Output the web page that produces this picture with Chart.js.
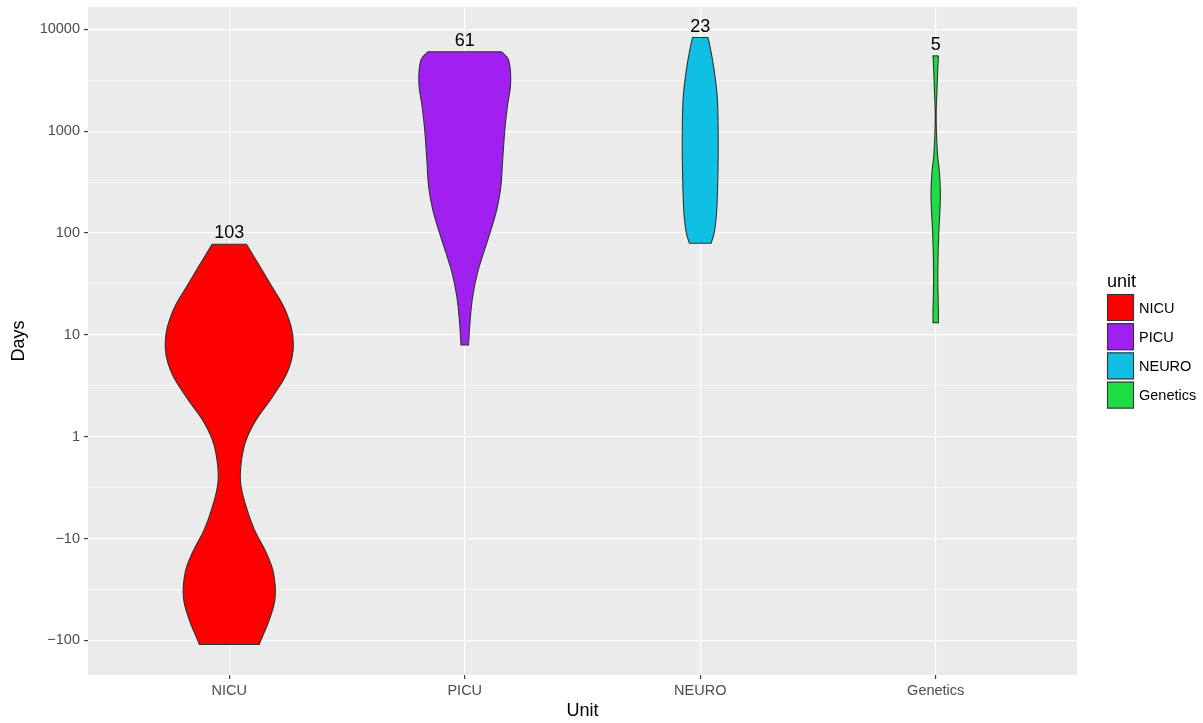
<!DOCTYPE html>
<html lang="en">
<head>
    <meta charset="UTF-8">
    <title>Days by Unit</title>
    <script src="https://cdn.jsdelivr.net/npm/chart.js"></script>
    <style>
        body {
            margin: 0;
            background-color: #fff;
        }
    </style>
</head>
<body>
    <canvas id="violinChart" width="1203" height="723"></canvas>

    <script>
        // Units along the x axis
        const units = ['NICU', 'PICU', 'NEURO', 'Genetics'];
        const unitColors = ['#FF0000', '#A020F0', '#10C0E4', '#1EDD42'];
        const unitCounts = [103, 61, 23, 5];

        // y axis is on a signed log scale: 0 -> 1, 1 -> 10, -1 -> -10 ...
        const yTickValues = [-2, -1, 0, 1, 2, 3, 4];
        const yTickLabels = ['\u2212100', '\u221210', '1', '10', '100', '1000', '10000'];

        // Violin outlines: levels (top to bottom) and half widths (x units)
        const nicuLevels = [1.89, 1.49, 1.22, 0.92, 0.66, 0.39, 0.17, -0.03, -0.23, -0.45, -0.69, -0.91, -1.14, -1.33, -1.57, -1.77, -2.04];
        const nicuHalfWidth = [0.073, 0.177, 0.242, 0.272, 0.251, 0.183, 0.115, 0.072, 0.052, 0.048, 0.072, 0.106, 0.157, 0.187, 0.195, 0.174, 0.127];

        const picuLevels = [3.78, 3.70, 3.48, 3.24, 3.01, 2.72, 2.45, 2.23, 2.00, 1.80, 1.61, 1.38, 1.15, 0.90];
        const picuHalfWidth = [0.157, 0.186, 0.195, 0.181, 0.170, 0.161, 0.153, 0.136, 0.107, 0.079, 0.054, 0.034, 0.023, 0.016];

        const neuroLevels = [3.92, 3.79, 3.60, 3.34, 3.04, 2.72, 2.39, 2.16, 2.00, 1.90];
        const neuroHalfWidth = [0.033, 0.045, 0.059, 0.072, 0.076, 0.076, 0.073, 0.068, 0.059, 0.046];

        const geneticsLevels = [3.74, 3.60, 3.40, 3.18, 2.94, 2.75, 2.59, 2.39, 2.23, 2.03, 1.77, 1.54, 1.22, 1.12];
        const geneticsHalfWidth = [0.0115, 0.0085, 0.0055, 0.002, 0.004, 0.0085, 0.016, 0.020, 0.018, 0.0135, 0.010, 0.009, 0.0115, 0.0115];

        const violinLevels = [nicuLevels, picuLevels, neuroLevels, geneticsLevels];
        const violinHalfWidths = [nicuHalfWidth, picuHalfWidth, neuroHalfWidth, geneticsHalfWidth];

        // closed outline: right side down, left side up; corners repeated so they stay sharp
        function violinOutline(center, levels, halfWidths) {
            const n = levels.length;
            const right = levels.map((y, i) => ({ x: center + halfWidths[i], y: y }));
            const left = levels.map((y, i) => ({ x: center - halfWidths[i], y: y })).reverse();
            return [...right, right[n - 1], left[0], ...left, left[n - 1], right[0]];
        }

        const datasets = units.map((unit, i) => ({
            label: unit,
            data: violinOutline(i + 1, violinLevels[i], violinHalfWidths[i]),
            borderColor: '#333333',
            borderWidth: 1.1,
            backgroundColor: unitColors[i],
            pointRadius: 0,
            tension: 0.4,
            fill: false
        }));

        // grey panel behind the grid
        const panelBackground = {
            id: 'panelBackground',
            beforeDraw(chart) {
                const { ctx, chartArea } = chart;
                ctx.save();
                ctx.fillStyle = '#EBEBEB';
                ctx.fillRect(chartArea.left, chartArea.top, chartArea.right - chartArea.left, chartArea.bottom - chartArea.top);
                ctx.restore();
            }
        };

        // fill the inside of each closed outline
        const violinFill = {
            id: 'violinFill',
            beforeDatasetDraw(chart, args) {
                const meta = args.meta;
                const line = meta.dataset;
                const ctx = chart.ctx;
                line.updateControlPoints(chart.chartArea, meta.indexAxis);
                ctx.save();
                ctx.beginPath();
                line.path(ctx);
                ctx.closePath();
                ctx.fillStyle = line.options.backgroundColor;
                ctx.fill();
                ctx.restore();
            }
        };

        // counts written above each violin
        const countLabels = {
            id: 'countLabels',
            afterDatasetsDraw(chart) {
                const ctx = chart.ctx;
                const xScale = chart.scales.x;
                const yScale = chart.scales.y;
                ctx.save();
                ctx.font = '18px "Liberation Sans", Arial, sans-serif';
                ctx.fillStyle = '#000';
                ctx.textAlign = 'center';
                ctx.textBaseline = 'alphabetic';
                units.forEach((unit, i) => {
                    const x = xScale.getPixelForValue(i + 1);
                    const y = yScale.getPixelForValue(violinLevels[i][0]);
                    ctx.fillText(String(unitCounts[i]), x, y - 6);
                });
                ctx.restore();
            }
        };

        // ggplot style legend on the right
        const unitLegend = {
            id: 'unitLegend',
            afterDraw(chart) {
                const ctx = chart.ctx;
                const left = 1107;
                const top = 294;
                const key = 27;
                const pitch = 29.2;
                ctx.save();
                ctx.fillStyle = '#000';
                ctx.font = '18px "Liberation Sans", Arial, sans-serif';
                ctx.textAlign = 'left';
                ctx.textBaseline = 'alphabetic';
                ctx.fillText('unit', left, 287);
                ctx.font = '14.5px "Liberation Sans", Arial, sans-serif';
                ctx.textBaseline = 'middle';
                units.forEach((unit, i) => {
                    const y = top + i * pitch;
                    ctx.fillStyle = unitColors[i];
                    ctx.fillRect(left, y, key, key);
                    ctx.strokeStyle = '#333333';
                    ctx.lineWidth = 1.1;
                    ctx.strokeRect(left + 0.5, y + 0.5, key - 1, key - 1);
                    ctx.fillStyle = '#000';
                    ctx.fillText(unit, left + key + 5, y + key / 2 + 1);
                });
                ctx.restore();
            }
        };

        const isMajor = v => Number.isInteger(v);

        new Chart(document.getElementById('violinChart'), {
            type: 'line',
            data: { datasets: datasets },
            options: {
                responsive: false,
                animation: false,
                layout: { padding: { top: 7, right: 126, left: 0, bottom: 0 } },
                plugins: {
                    legend: { display: false },
                    tooltip: { enabled: false }
                },
                scales: {
                    x: {
                        type: 'linear',
                        min: 0.4,
                        max: 4.6,
                        afterBuildTicks: scale => {
                            scale.ticks = units.map((u, i) => ({ value: i + 1 }));
                        },
                        afterFit: scale => {
                            scale.height = 48;
                            scale.paddingLeft = 0;
                            scale.paddingRight = 0;
                        },
                        ticks: {
                            callback: value => units[value - 1],
                            color: '#4D4D4D',
                            font: { family: '"Liberation Sans", Arial, sans-serif', size: 14.5 },
                            padding: 3,
                            maxRotation: 0
                        },
                        grid: {
                            color: '#FFFFFF',
                            lineWidth: 1.2,
                            tickColor: '#333333',
                            tickWidth: 1.1,
                            tickLength: 4
                        },
                        border: { display: false },
                        title: {
                            display: true,
                            text: 'Unit',
                            color: '#000',
                            font: { family: '"Liberation Sans", Arial, sans-serif', size: 18 },
                            padding: { top: 0, bottom: 1 }
                        }
                    },
                    y: {
                        type: 'linear',
                        min: -2.34,
                        max: 4.22,
                        afterBuildTicks: scale => {
                            const ticks = [];
                            yTickValues.forEach((v, i) => {
                                ticks.push({ value: v });
                                if (i < yTickValues.length - 1) ticks.push({ value: v + 0.5 });
                            });
                            scale.ticks = ticks;
                        },
                        afterFit: scale => {
                            scale.width = 88;
                            scale.paddingTop = 0;
                            scale.paddingBottom = 0;
                        },
                        ticks: {
                            callback: value => {
                                const idx = yTickValues.indexOf(value);
                                return idx >= 0 ? yTickLabels[idx] : '';
                            },
                            color: '#4D4D4D',
                            font: { family: '"Liberation Sans", Arial, sans-serif', size: 14.5 },
                            padding: 4
                        },
                        grid: {
                            color: '#FFFFFF',
                            lineWidth: ctx => isMajor(ctx.tick.value) ? 1.2 : 0.6,
                            tickColor: ctx => isMajor(ctx.tick.value) ? '#333333' : 'rgba(0,0,0,0)',
                            tickWidth: 1.1,
                            tickLength: 4
                        },
                        border: { display: false },
                        title: {
                            display: true,
                            text: 'Days',
                            color: '#000',
                            font: { family: '"Liberation Sans", Arial, sans-serif', size: 18 },
                            padding: { top: 8, bottom: 0 }
                        }
                    }
                }
            },
            plugins: [panelBackground, violinFill, countLabels, unitLegend]
        });
    </script>
</body>
</html>
